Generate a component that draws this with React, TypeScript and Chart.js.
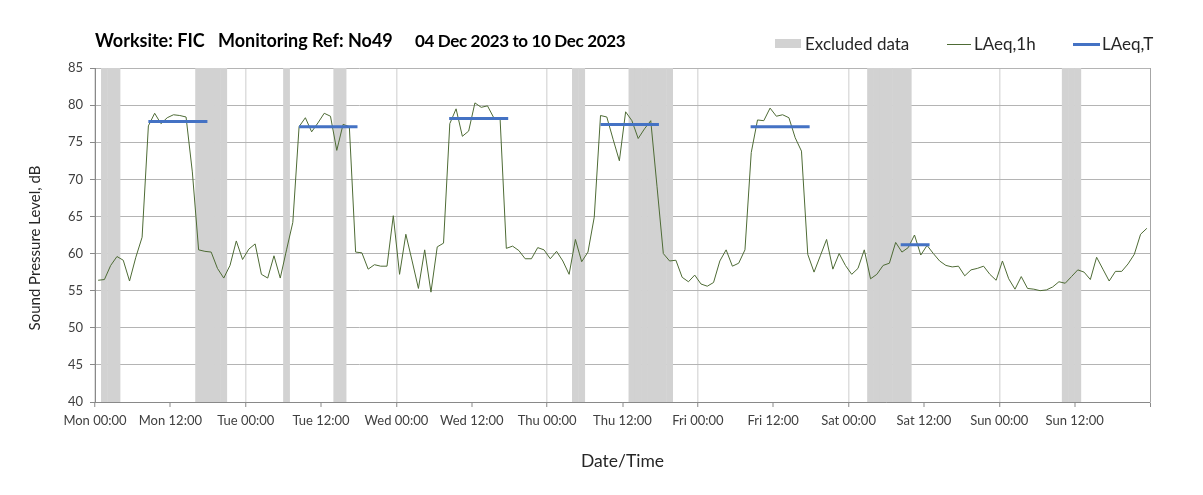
import React, { useEffect, useRef } from 'react';
import { Chart, registerables } from 'chart.js';

Chart.register(...registerables);

// x tick labels, one per 12-hour tick (last tick at the end of the week is unlabelled)
const tickLabels = [
  'Mon 00:00', 'Mon 12:00', 'Tue 00:00', 'Tue 12:00', 'Wed 00:00', 'Wed 12:00',
  'Thu 00:00', 'Thu 12:00', 'Fri 00:00', 'Fri 12:00', 'Sat 00:00', 'Sat 12:00',
  'Sun 00:00', 'Sun 12:00', '',
];

// hourly LAeq,1h values (dB), hour 0 = Mon 00:00
const laeq1h = [
  56.4, 56.5, 58.4, 59.6, 59.1, 56.3, 59.5, 62.2, 77.2, 78.9, 77.5, 78.3,
  78.7, 78.6, 78.4, 71.0, 60.5, 60.3, 60.2, 58.0, 56.7, 58.4, 61.7, 59.2,
  60.6, 61.3, 57.2, 56.7, 59.7, 56.7, 60.5, 64.2, 77.1, 78.3, 76.4, 77.6,
  78.9, 78.5, 73.9, 77.4, 77.1, 60.2, 60.1, 57.9, 58.5, 58.3, 58.3, 65.1,
  57.2, 62.6, 59.0, 55.3, 60.5, 54.8, 60.9, 61.4, 77.5, 79.5, 75.8, 76.5,
  80.3, 79.7, 79.9, 78.3, 78.3, 60.7, 61.0, 60.4, 59.3, 59.3, 60.8, 60.5,
  59.3, 60.3, 59.0, 57.2, 61.9, 58.9, 60.2, 64.9, 78.6, 78.4, 75.4, 72.5,
  79.1, 77.9, 75.5, 76.8, 77.9, 69.0, 60.0, 59.0, 59.1, 56.8, 56.2, 57.1,
  55.9, 55.6, 56.1, 59.0, 60.5, 58.3, 58.7, 60.5, 73.6, 78.0, 77.9, 79.6,
  78.5, 78.7, 78.3, 75.6, 73.8, 59.9, 57.5, 59.7, 61.9, 57.9, 60.0, 58.4,
  57.2, 58.0, 60.5, 56.6, 57.2, 58.4, 58.7, 61.5, 60.2, 60.8, 62.5, 59.8,
  61.1, 60.0, 59.0, 58.4, 58.2, 58.3, 57.0, 57.8, 58.0, 58.3, 57.2, 56.4,
  59.0, 56.6, 55.2, 56.9, 55.3, 55.2, 55.0, 55.1, 55.5, 56.2, 56.0, 56.9,
  57.8, 57.5, 56.5, 59.5, 57.9, 56.3, 57.6, 57.6, 58.6, 59.9, 62.6, 63.4,
];

// hours flagged as excluded data
const excludedHours = [
  1, 2, 3, 16, 17, 18, 19, 20, 30, 38, 39, 76, 77,
  85, 86, 87, 88, 89, 90, 91, 123, 124, 125, 126, 127, 128, 129, 154, 155, 156,
];

// LAeq,T periods (hours from Mon 00:00) and levels (dB)
const laeqTStart = [8.5, 32.5, 56.4, 80.5, 104.4, 128.3];
const laeqTEnd = [17.9, 41.8, 65.8, 89.8, 113.8, 132.9];
const laeqTLevel = [77.8, 77.1, 78.2, 77.4, 77.1, 61.2];

const yAxisTitle = 'Sound Pressure Level, dB';

const FONT = 'Lato, "Open Sans", sans-serif';

export default function App() {
  const canvasRef = useRef<HTMLCanvasElement>(null);

  useEffect(() => {
    if (!canvasRef.current) return;
    const lineData = laeq1h.map((v, i) => ({ x: i + 0.5, y: v }));
    const barData = excludedHours.map((h) => ({ x: h + 0.5, y: [40, 85] }));
    const tData: any[] = [];
    laeqTStart.forEach((s, k) => {
      if (k > 0) tData.push({ x: (laeqTEnd[k - 1] + s) / 2, y: null });
      tData.push({ x: s, y: laeqTLevel[k] }, { x: laeqTEnd[k], y: laeqTLevel[k] });
    });

    const yTitlePlugin = {
      id: 'yTitle',
      afterDraw(chart: any) {
        const { ctx } = chart;
        ctx.save();
        ctx.translate(35, 248);
        ctx.rotate(-Math.PI / 2);
        ctx.font = `15px ${FONT}`;
        ctx.fillStyle = '#262626';
        ctx.textAlign = 'center';
        ctx.textBaseline = 'middle';
        ctx.fillText(yAxisTitle, 0, 0);
        ctx.restore();
      },
    };

    const chart = new Chart(canvasRef.current, {
      type: 'line',
      data: {
        datasets: [
          {
            type: 'line',
            label: 'LAeq,T',
            data: tData,
            borderColor: '#4472C4',
            backgroundColor: '#4472C4',
            borderWidth: 3,
            pointRadius: 0,
            spanGaps: false,
            borderCapStyle: 'butt',
            order: 0,
          } as any,
          {
            type: 'line',
            label: 'LAeq,1h',
            data: lineData,
            borderColor: '#4e6b35',
            backgroundColor: '#4e6b35',
            borderWidth: 1,
            pointRadius: 0,
            tension: 0,
            order: 1,
          } as any,
          {
            type: 'bar',
            label: 'Excluded data',
            data: barData,
            backgroundColor: '#d2d2d2',
            borderWidth: 0,
            barPercentage: 1.08,
            categoryPercentage: 1,
            order: 2,
          } as any,
        ],
      },
      plugins: [yTitlePlugin],
      options: {
        responsive: false,
        animation: false,
        events: [],
        layout: { padding: { left: 0, right: 53, top: 68, bottom: 0 } },
        plugins: {
          legend: { display: false },
          title: { display: false },
          tooltip: { enabled: false },
        },
        scales: {
          x: {
            type: 'linear',
            min: 0,
            max: 168,
            offset: false,
            afterFit: (s: any) => { s.height = 93; },
            ticks: {
              stepSize: 12,
              autoSkip: false,
              maxRotation: 0,
              minRotation: 0,
              padding: 6,
              color: '#404040',
              font: { family: FONT, size: 13 },
              callback: (v: any) => tickLabels[Math.round(Number(v) / 12)] ?? '',
            },
            grid: {
              offset: false,
              color: (ctx: any) => {
                const v = ctx.tick ? ctx.tick.value : -1;
                if (v === 168) return '#a6a6a6';
                return v % 24 === 0 ? '#dedede' : 'rgba(0,0,0,0)';
              },
              lineWidth: (ctx: any) => {
                const v = ctx.tick ? ctx.tick.value : -1;
                if (v === 168) return 1;
                return v % 24 === 0 ? 1.5 : 0;
              },
              tickLength: 5,
              tickColor: '#898989',
              tickWidth: 1,
            },
            border: { color: '#898989', width: 1 },
            title: {
              display: true,
              text: 'Date/Time',
              color: '#262626',
              font: { family: FONT, size: 17.5 },
              padding: { top: 0, bottom: 23 },
            },
          },
          y: {
            min: 40,
            max: 85,
            afterFit: (s: any) => { s.width = 95; },
            ticks: {
              stepSize: 5,
              padding: 7,
              color: '#404040',
              font: { family: FONT, size: 13 },
            },
            grid: {
              offset: false,
              color: '#b4b4b4',
              lineWidth: 1,
              tickLength: 5,
              tickColor: '#898989',
            },
            border: { color: '#898989', width: 1 },
            title: { display: false },
          },
        },
      } as any,
    });
    return () => chart.destroy();
  }, []);

  const textBase: React.CSSProperties = {
    position: 'absolute',
    fontFamily: FONT,
    lineHeight: 1,
    whiteSpace: 'nowrap',
    color: '#000',
  };

  return (
    <div style={{ position: 'absolute', left: 0, top: 0, width: 1203, height: 495, background: '#fff', overflow: 'hidden' }}>
      <canvas ref={canvasRef} width={1203} height={495} style={{ position: 'absolute', left: 0, top: 0 }} />
      <span style={{ ...textBase, left: 95, top: 31, fontSize: 18, fontWeight: 700 }}>Worksite: FIC</span>
      <span style={{ ...textBase, left: 218, top: 31, fontSize: 18, fontWeight: 700 }}>Monitoring Ref: No49</span>
      <span style={{ ...textBase, left: 415, top: 31.5, fontSize: 17, fontWeight: 700, letterSpacing: -0.35 }}>04 Dec 2023 to 10 Dec 2023</span>

      <div style={{ position: 'absolute', left: 775, top: 39, width: 26, height: 9, background: '#d2d2d2' }} />
      <span style={{ ...textBase, left: 805, top: 34.5, fontSize: 17, color: '#262626' }}>Excluded data</span>
      <div style={{ position: 'absolute', left: 947, top: 44, width: 24, height: 1, background: '#4e6b35' }} />
      <span style={{ ...textBase, left: 974, top: 34.5, fontSize: 17, color: '#262626' }}>LAeq,1h</span>
      <div style={{ position: 'absolute', left: 1073, top: 43, width: 27, height: 3, background: '#4472C4' }} />
      <span style={{ ...textBase, left: 1102, top: 34.5, fontSize: 17, color: '#262626' }}>LAeq,T</span>
    </div>
  );
}
